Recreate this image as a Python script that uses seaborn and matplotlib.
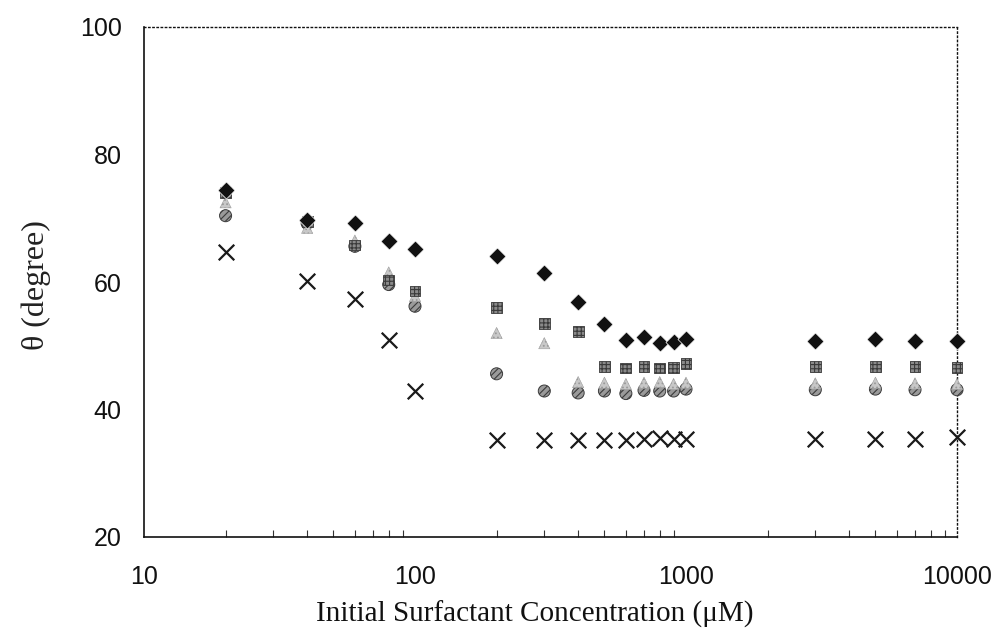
import matplotlib
matplotlib.use("Agg")
import matplotlib.pyplot as plt
import seaborn as sns
import pandas as pd
from matplotlib.ticker import FixedLocator, FixedFormatter, LogLocator, NullFormatter

# ---- data ----
conc = [20, 40, 60, 80, 100, 200, 300, 400, 500, 600, 700, 800, 900, 1000,
        3000, 5000, 7000, 10000]
theta_diamond = [74.5, 69.8, 69.3, 66.5, 65.2, 64.1, 61.4, 56.9, 53.4, 50.9,
                 51.3, 50.4, 50.6, 51.1, 50.7, 51.1, 50.7, 50.8]
theta_square = [74.0, 69.5, 65.8, 60.3, 58.6, 56.0, 53.5, 52.2, 46.8, 46.5,
                46.8, 46.5, 46.6, 47.2, 46.8, 46.8, 46.8, 46.6]
theta_triangle = [72.5, 68.5, 66.5, 61.5, 57.8, 52.0, 50.4, 44.3, 44.2, 44.0,
                  44.2, 44.3, 44.0, 44.2, 44.1, 44.2, 44.1, 44.0]
theta_circle = [70.4, 69.2, 65.6, 59.6, 56.2, 45.6, 42.9, 42.6, 42.9, 42.5,
                43.0, 42.9, 42.9, 43.2, 43.1, 43.2, 43.1, 43.1]
theta_cross = [64.7, 60.1, 57.3, 50.9, 42.9, 35.2, 35.2, 35.2, 35.2, 35.2,
               35.3, 35.5, 35.4, 35.4, 35.3, 35.3, 35.4, 35.7]

x_ticks = [10, 100, 1000, 10000]
x_tick_labels = ["10", "100", "1000", "10000"]
y_ticks = [20, 40, 60, 80, 100]
y_tick_labels = ["20", "40", "60", "80", "100"]

series = {
    "cross": theta_cross,
    "circle": theta_circle,
    "triangle": theta_triangle,
    "square": theta_square,
    "diamond": theta_diamond,
}

frames = []
for name, vals in series.items():
    frames.append(pd.DataFrame({"conc": conc, "theta": vals, "series": name}))
df = pd.concat(frames, ignore_index=True)

sns.set_style("white")
plt.rcParams["font.family"] = ["Liberation Sans", "DejaVu Sans"]
plt.rcParams["hatch.linewidth"] = 0.8

fig = plt.figure(figsize=(9.99, 6.34), dpi=100)
ax = fig.add_axes([144 / 999, 1 - 537 / 634, (957 - 144) / 999, (537 - 27) / 634])

styles = {
    "cross": dict(marker="x", s=125, color="#1a1a1a", linewidths=1.6),
    "circle": dict(marker="o", s=75, facecolor="#9a9a9a", edgecolor="#3c3c3c",
                   hatch="/////", linewidths=0.7),
    "triangle": dict(marker="^", s=65, facecolor="#c8c8c8", edgecolor="#9a9a9a",
                     hatch="....", linewidths=0.4),
    "square": dict(marker="s", s=60, facecolor="#8a8a8a", edgecolor="#3a3a3a",
                   hatch="++++", linewidths=0.6),
    "diamond": dict(marker="D", s=75, color="#111111", linewidths=0.5),
}

for name in series:
    sub = df[df["series"] == name]
    sns.scatterplot(data=sub, x="conc", y="theta", ax=ax, legend=False,
                    zorder=3, clip_on=False, **styles[name])

ax.set_xscale("log")
ax.set_xlim(10, 10000)
ax.set_ylim(20, 100)

ax.xaxis.set_major_locator(FixedLocator(x_ticks))
ax.xaxis.set_major_formatter(FixedFormatter(x_tick_labels))
ax.xaxis.set_minor_locator(LogLocator(base=10, subs=range(2, 10)))
ax.xaxis.set_minor_formatter(NullFormatter())
ax.yaxis.set_major_locator(FixedLocator(y_ticks))
ax.yaxis.set_major_formatter(FixedFormatter(y_tick_labels))

ax.tick_params(axis="x", which="major", direction="in", length=0, pad=20,
               labelsize=18, colors="#111111")
ax.tick_params(axis="x", which="minor", direction="in", length=5, width=0.8,
               color="#333333", bottom=True)
ax.tick_params(axis="y", which="major", direction="in", length=5, width=0.8,
               pad=16, labelsize=18, colors="#111111")
ax.tick_params(axis="y", which="major", color="#777777")

for side in ("left", "bottom"):
    ax.spines[side].set_color("#111111")
    ax.spines[side].set_linewidth(1.2)
for side in ("top", "right"):
    ax.spines[side].set_color("#111111")
    ax.spines[side].set_linewidth(1.0)
    ax.spines[side].set_linestyle((0, (1, 2)))

serif = ["Liberation Serif", "DejaVu Serif"]
ax.set_xlabel("Initial Surfactant Concentration (\u03bcM)", fontsize=21,
              family=serif, color="#111111")
ax.xaxis.set_label_coords((535 - 144) / 813, -(622 - 537) / 510, transform=ax.transAxes)
ax.xaxis.label.set_va("baseline")
ax.set_ylabel("\u03b8 (degree)", fontsize=23, family=serif, color="#222222")
ax.yaxis.set_label_coords(-(144 - 36) / 813, (537 - 285) / 510, transform=ax.transAxes)
ax.yaxis.label.set_va("center")

fig.savefig("out.png", dpi=100)
